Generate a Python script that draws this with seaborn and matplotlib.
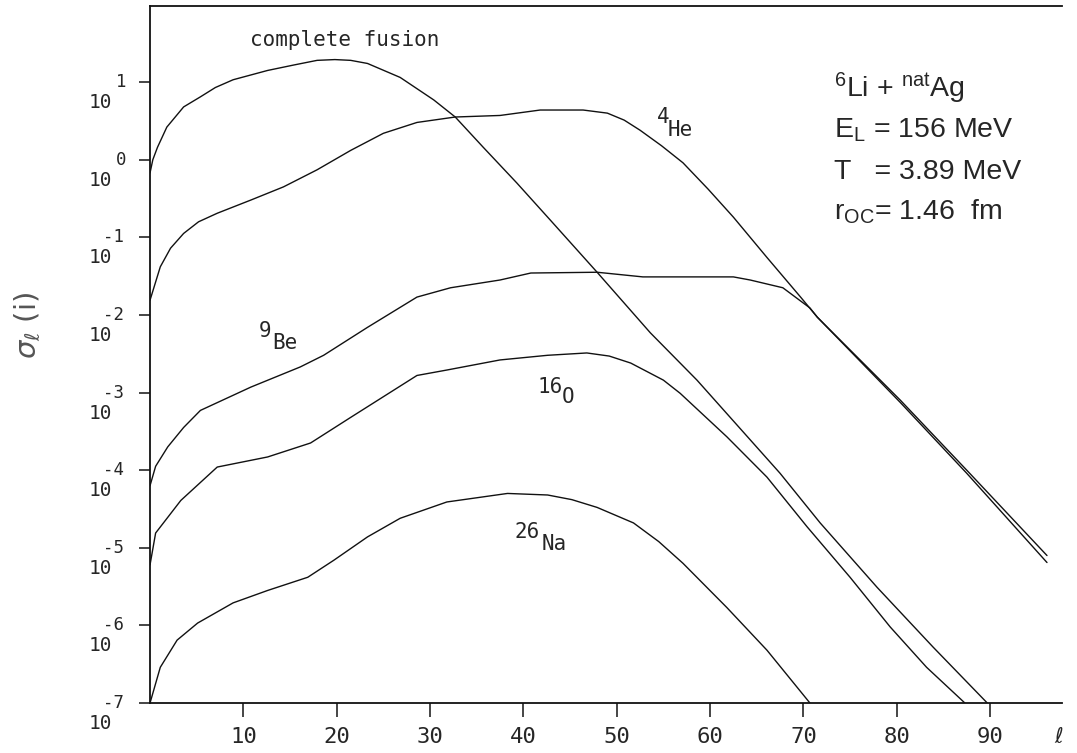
import numpy as np
import pandas as pd
import matplotlib
matplotlib.use('Agg')
import matplotlib.pyplot as plt
import matplotlib.transforms as mtrans
import seaborn as sns
from matplotlib.ticker import NullLocator, FixedLocator

# values: angular momentum l and log10(sigma_l)
cf_l = [0, 0.3, 0.8, 1.8, 3.6, 5.4, 7.0, 8.9, 12.6, 15.4, 17.9, 19.8, 21.5, 23.3, 26.8, 30.4, 32.7,
        35.7, 39.3, 42.9, 47.9, 53.6, 58.6, 67.5, 71.8, 77.9, 83.9, 89.7]
cf_log = [-0.17, 0.0, 0.16, 0.42, 0.68, 0.81, 0.93, 1.03, 1.15, 1.22, 1.28, 1.29, 1.28, 1.24, 1.06, 0.77, 0.55,
          0.16, -0.30, -0.78, -1.45, -2.23, -2.84, -4.04, -4.68, -5.51, -6.28, -7.0]

he_l = [0, 1.1, 2.2, 3.6, 5.2, 7.2, 10.8, 14.3, 17.9, 21.5, 25.0, 28.6, 32.7, 37.5, 41.8,
        46.4, 49.0, 50.8, 52.5, 54.8, 57.1, 59.8, 62.5, 66.1, 69.7, 71.5, 80.4, 87.5, 96.1]
he_log = [-1.81, -1.38, -1.14, -0.95, -0.80, -0.69, -0.52, -0.35, -0.13, 0.12, 0.34, 0.48, 0.55, 0.57, 0.64,
          0.64, 0.60, 0.51, 0.38, 0.18, -0.04, -0.38, -0.74, -1.26, -1.77, -2.03, -3.10, -4.00, -5.10]

be_l = [0, 0.6, 1.9, 3.6, 5.4, 10.8, 16.1, 18.6, 23.3, 28.6, 32.2, 37.5, 40.8, 47.9,
        52.8, 62.5, 64.3, 67.8, 70.7, 71.5, 80.4, 87.5, 96.1]
be_log = [-4.2, -3.95, -3.70, -3.45, -3.23, -2.93, -2.67, -2.52, -2.16, -1.77, -1.65, -1.55, -1.46, -1.45,
          -1.51, -1.51, -1.55, -1.65, -1.91, -2.03, -3.13, -4.04, -5.19]

o_l = [0, 0.6, 3.3, 7.2, 12.6, 17.2, 21.5, 28.6, 31.8, 37.5, 42.6, 46.8, 49.2, 51.5, 55.0,
       56.8, 61.8, 66.1, 70.4, 75.0, 79.3, 83.2, 87.3]
o_log = [-5.22, -4.81, -4.39, -3.96, -3.83, -3.65, -3.32, -2.78, -2.71, -2.58, -2.52, -2.49, -2.53, -2.62, -2.84,
         -3.01, -3.57, -4.09, -4.73, -5.38, -6.02, -6.54, -7.0]

na_l = [0, 1.1, 2.9, 5.1, 8.9, 12.6, 16.9, 19.7, 23.3, 26.8, 31.8, 38.3, 42.6, 45.2, 47.9,
        51.8, 54.5, 57.1, 61.8, 66.1, 70.7]
na_log = [-7.0, -6.54, -6.19, -5.97, -5.71, -5.55, -5.38, -5.16, -4.86, -4.62, -4.41, -4.30, -4.32, -4.38, -4.48,
          -4.68, -4.92, -5.20, -5.77, -6.32, -7.0]

curves = [('complete fusion', cf_l, cf_log), ('4He', he_l, he_log), ('9Be', be_l, be_log),
          ('16O', o_l, o_log), ('26Na', na_l, na_log)]

xticks = [10, 20, 30, 40, 50, 60, 70, 80, 90]
yexp = [-7, -6, -5, -4, -3, -2, -1, 0, 1]

# isotope labels: mass number, element
iso_mass = ['4', '9', '16', '26']
iso_elem = ['He', 'Be', 'O', 'Na']

sns.set_style('ticks')
plt.rcParams['font.family'] = ['DejaVu Sans Mono', 'DejaVu Sans']

fig = plt.figure(figsize=(10.77, 7.53), dpi=100)
ax = fig.add_axes([0.1393, 0.0664, 0.8467, 0.9256])

for name, l, lg in curves:
    df = pd.DataFrame({'l': l, 'sigma': 10.0 ** np.array(lg)})
    sns.lineplot(data=df, x='l', y='sigma', sort=False, estimator=None,
                 color='#111111', lw=1.0, ax=ax)

ax.set_yscale('log')
ax.set_xlim(0, 97.7)
ax.set_ylim(1e-7, 10 ** 1.98)
ax.yaxis.set_major_locator(FixedLocator([10.0 ** e for e in yexp]))
ax.yaxis.set_minor_locator(NullLocator())
ax.set_yticklabels(['10'] * len(yexp))
ax.set_xticks(xticks)
ax.set_xticklabels([str(t) for t in xticks])
ax.tick_params(axis='y', direction='out', length=8, width=1.2, labelsize=14, pad=19)
ax.tick_params(axis='x', direction='out', length=10, width=1.2, labelsize=16, pad=7)
shift = mtrans.ScaledTranslation(0, -11 / 100, fig.dpi_scale_trans)
for t in ax.get_yticklabels():
    t.set_va('top')
    t.set_transform(t.get_transform() + shift)

# exponents of the y tick labels, raised to the tick itself
for e in yexp:
    start = -47 if e < 0 else -34
    ax.annotate(str(e), xy=(0, 10.0 ** e), xycoords=('axes fraction', 'data'),
                xytext=(start * 0.72, 0), textcoords='offset points',
                fontsize=12.5, ha='left', va='center', annotation_clip=False)

ax.spines['right'].set_visible(False)
for s in ['left', 'bottom', 'top']:
    ax.spines[s].set_linewidth(1.3)
    ax.spines[s].set_color('#111111')
ax.set_xlabel('')
ax.set_ylabel('')

# curve labels
fig.text(250 / 1077, 1 - 40 / 753, 'complete fusion', fontsize=15, va='center', ha='left')
mass_pos = [(657, 117), (259, 331), (537, 387), (514, 532)]
elem_pos = [(668, 130), (272, 343), (562, 397), (542, 544)]
for m, e, (mx, my), (ex, ey) in zip(iso_mass, iso_elem, mass_pos, elem_pos):
    fig.text(mx / 1077, 1 - my / 753, m, fontsize=15, va='center', ha='left')
    fig.text(ex / 1077, 1 - ey / 753, e, fontsize=15, va='center', ha='left')

# parameter block
info = [r'$\mathregular{^{6}}$Li + $\mathregular{^{nat}}$Ag',
        r'E$\mathregular{_L}$ = 156 MeV',
        r'T   = 3.89 MeV',
        r'r$\mathregular{_{OC}}$= 1.46  fm']
for i, line in enumerate(info):
    fig.text(834 / 1077, 1 - (97 + 41 * i) / 753, line, fontsize=20.5,
             family=['Liberation Sans', 'DejaVu Sans'], ha='left', va='baseline')

fig.text(28 / 1077, 1 - 325 / 753, r'$\sigma_{\ell}$ (i)', fontsize=21, color='#555555',
         rotation=90, ha='center', va='center', family=['DejaVu Sans'])
fig.text(1059 / 1077, 1 - 737 / 753, r'$\ell$', fontsize=15, ha='center', va='center')

fig.savefig('out.png', dpi=100)
